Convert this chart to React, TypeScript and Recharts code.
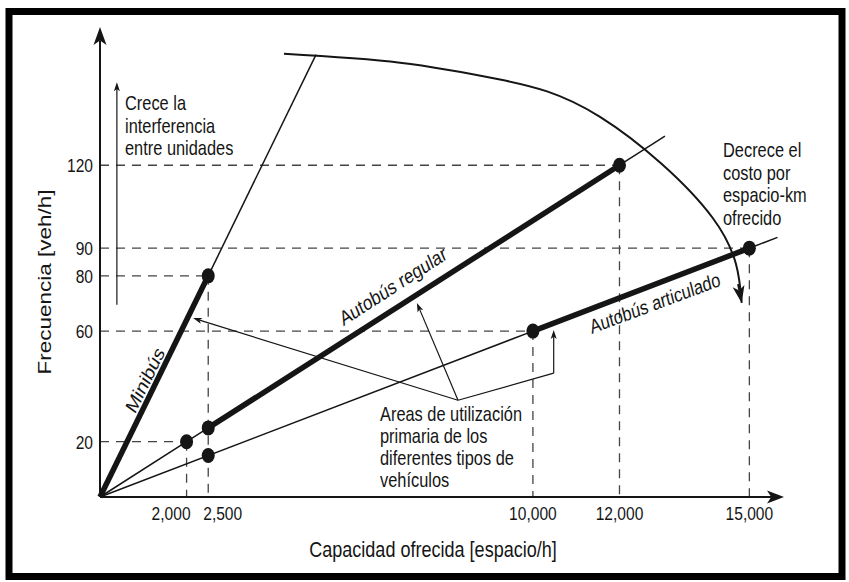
import React from 'react';
import { ComposedChart, Line, Scatter, XAxis, YAxis, ReferenceLine } from 'recharts';

// --- data ---
const xTicks = [2000, 2500, 10000, 12000, 15000];
const yTicks = [20, 60, 80, 90, 120];

const minibusThick = [{ x: 0, y: 0 }, { x: 2500, y: 80 }];
const minibusExt = [{ x: 2500, y: 80 }, { x: 4990, y: 160 }];
const regularThin = [{ x: 0, y: 0 }, { x: 2000, y: 20 }, { x: 2500, y: 25 }];
const regularThick = [{ x: 2500, y: 25 }, { x: 12000, y: 120 }];
const regularExt = [{ x: 12000, y: 120 }, { x: 13050, y: 130.5 }];
const articThin = [{ x: 0, y: 0 }, { x: 10000, y: 60 }];
const articThick = [{ x: 10000, y: 60 }, { x: 15000, y: 90 }];
const articExt = [{ x: 15000, y: 90 }, { x: 15650, y: 93.9 }];

const keyPoints = [
  { x: 2500, y: 80 },
  { x: 2000, y: 20 },
  { x: 2500, y: 25 },
  { x: 12000, y: 120 },
  { x: 2500, y: 15 },
  { x: 10000, y: 60 },
  { x: 15000, y: 90 },
];

// dashed guides: value pairs (capacity, frequency)
const guides = [
  { x: 2000, y: 20 },
  { x: 10000, y: 60 },
  { x: 2500, y: 80 },
  { x: 15000, y: 90 },
  { x: 12000, y: 120 },
];

// "Decrece el costo" arc
const costArc = [
  { x: 4250, y: 160.3 },
  { x: 6930, y: 157.1 },
  { x: 9240, y: 151 },
  { x: 11550, y: 137.5 },
  { x: 14150, y: 101 },
  { x: 14823, y: 70.2 },
];

// annotation pointers
const pointerHub = { x: 8270, y: 35 };
const pointerMinibus = { x: 2150, y: 64.7 };
const pointerRegular = { x: 7320, y: 70.2 };
const pointerCorner = { x: 10480, y: 44.8 };
const pointerArtic = { x: 10480, y: 60.4 };

const SANS = "'Liberation Sans', Arial, sans-serif";
const INK = '#151515';
const SQUEEZE = 0.82; // the figure is horizontally compressed

const arrowShape = (len: number, wid: number) => (props: any) => {
  const { x1, y1, x2, y2, stroke, strokeWidth } = props;
  const a = Math.atan2(y2 - y1, x2 - x1);
  const c = Math.cos(a);
  const s = Math.sin(a);
  const bx = x2 - len * c;
  const by = y2 - len * s;
  const mx = x2 - len * 0.75 * c;
  const my = y2 - len * 0.75 * s;
  const nx = (-s * wid) / 2;
  const ny = (c * wid) / 2;
  return (
    <g>
      <line x1={x1} y1={y1} x2={mx} y2={my} stroke={stroke} strokeWidth={strokeWidth} />
      <path
        d={`M${x2},${y2} L${bx + nx},${by + ny} L${mx},${my} L${bx - nx},${by - ny} Z`}
        fill={stroke}
      />
    </g>
  );
};

const Dot = (props: any) => <ellipse cx={props.cx} cy={props.cy} rx={6.5} ry={7.5} fill={INK} />;

const fmt = (v: number) => v.toLocaleString('en-US');

const XTick = (props: any) => {
  const { x, y, payload } = props;
  // the two close labels are pushed apart as in the source
  let anchor = 'middle';
  let dx = 0;
  if (payload.value === 2000) {
    anchor = 'end';
    dx = 4;
  } else if (payload.value === 2500) {
    anchor = 'start';
    dx = -5;
  }
  return (
    <g transform={`translate(${x + dx},${y}) scale(${SQUEEZE},1)`}>
      <text x={0} y={0} dy="0.75em" textAnchor={anchor} fontFamily={SANS} fontSize={19} fill={INK}>
        {fmt(payload.value)}
      </text>
    </g>
  );
};

const YTick = (props: any) => {
  const { x, y, payload } = props;
  return (
    <g transform={`translate(${x},${y}) scale(${SQUEEZE},1)`}>
      <text x={0} y={0} dy="0.36em" textAnchor="end" fontFamily={SANS} fontSize={19} fill={INK}>
        {payload.value}
      </text>
    </g>
  );
};

// text squeezed horizontally like the source figure
const Txt = ({ x, y, size = 20, rotate = 0, anchor = 'start', middle = false, children }: any) => (
  <g transform={`translate(${x},${y}) scale(${SQUEEZE},1) rotate(${rotate})`}>
    <text x={0} y={0} dy={middle ? '0.35em' : 0} textAnchor={anchor} fontFamily={SANS} fontSize={size} fill={INK}>
      {children}
    </text>
  </g>
);

export default function App() {
  return (
    <div style={{ position: 'absolute', left: 0, top: 0, width: 849, height: 582, background: '#fff' }}>
      <ComposedChart
        width={849}
        height={582}
        margin={{ top: 27, right: 65, bottom: 55, left: 40 }}
      >
        <XAxis
          type="number"
          dataKey="x"
          domain={[0, 15800]}
          ticks={xTicks}
          interval={0}
          axisLine={false}
          tickLine={false}
          tickSize={0}
          tickMargin={9}
          height={30}
          tick={<XTick />}
        />
        <YAxis
          type="number"
          dataKey="y"
          domain={[0, 170]}
          ticks={yTicks}
          interval={0}
          axisLine={false}
          tickLine={false}
          tickSize={0}
          tickMargin={7}
          width={60}
          tick={<YTick />}
        />

        {guides.map((g) => (
          <ReferenceLine
            key={`h${g.y}`}
            segment={[{ x: 0, y: g.y }, { x: g.x, y: g.y }]}
            stroke="#444"
            strokeWidth={1.3}
            strokeDasharray="9 7"
          />
        ))}
        {guides.map((g) => (
          <ReferenceLine
            key={`v${g.x}`}
            segment={[{ x: g.x, y: g.y }, { x: g.x, y: 0 }]}
            stroke="#444"
            strokeWidth={1.3}
            strokeDasharray="9 7"
          />
        ))}

        {/* axes with arrowheads */}
        <ReferenceLine segment={[{ x: 0, y: 0 }, { x: 15800, y: 0 }]} stroke={INK} strokeWidth={2} shape={arrowShape(17, 13)} />
        <ReferenceLine segment={[{ x: 0, y: 0 }, { x: 0, y: 170 }]} stroke={INK} strokeWidth={2} shape={arrowShape(18, 13)} />

        {/* interference arrow */}
        <ReferenceLine segment={[{ x: 390, y: 69.5 }, { x: 390, y: 150 }]} stroke={INK} strokeWidth={1.2} shape={arrowShape(9, 6)} />

        {/* pointers */}
        <ReferenceLine segment={[pointerHub, pointerMinibus]} stroke={INK} strokeWidth={1.2} shape={arrowShape(9, 6)} />
        <ReferenceLine segment={[pointerHub, pointerRegular]} stroke={INK} strokeWidth={1.2} shape={arrowShape(9, 6)} />
        <ReferenceLine segment={[pointerHub, pointerCorner]} stroke={INK} strokeWidth={1.2} />
        <ReferenceLine segment={[pointerCorner, pointerArtic]} stroke={INK} strokeWidth={1.2} shape={arrowShape(9, 6)} />

        {/* cost arc */}
        <Line data={costArc} dataKey="y" type="natural" stroke={INK} strokeWidth={2} dot={false} isAnimationActive={false} />
        <ReferenceLine segment={[{ x: 14740, y: 77 }, costArc[costArc.length - 1]]} stroke={INK} strokeWidth={2} shape={arrowShape(17, 12)} />

        <Line data={minibusExt} dataKey="y" stroke={INK} strokeWidth={1.5} dot={false} isAnimationActive={false} />
        <Line data={regularThin} dataKey="y" stroke={INK} strokeWidth={1.5} dot={false} isAnimationActive={false} />
        <Line data={regularExt} dataKey="y" stroke={INK} strokeWidth={1.5} dot={false} isAnimationActive={false} />
        <Line data={articThin} dataKey="y" stroke={INK} strokeWidth={1.5} dot={false} isAnimationActive={false} />
        <Line data={articExt} dataKey="y" stroke={INK} strokeWidth={1.5} dot={false} isAnimationActive={false} />
        <Line data={minibusThick} dataKey="y" stroke={INK} strokeWidth={5.5} dot={false} isAnimationActive={false} />
        <Line data={regularThick} dataKey="y" stroke={INK} strokeWidth={5.5} dot={false} isAnimationActive={false} />
        <Line data={articThick} dataKey="y" stroke={INK} strokeWidth={5.5} dot={false} isAnimationActive={false} />

        <Scatter data={keyPoints} dataKey="y" shape={Dot} isAnimationActive={false} />
      </ComposedChart>

      <svg
        width={849}
        height={582}
        style={{ position: 'absolute', left: 0, top: 0, pointerEvents: 'none' }}
      >
        <rect x={9} y={11.5} width={833} height={565} fill="none" stroke="#000" strokeWidth={7} />

        <Txt x={51} y={282} size={22.5} rotate={-90} anchor="middle">Frecuencia [veh/h]</Txt>
        <Txt x={433} y={557} size={22} anchor="middle">Capacidad ofrecida [espacio/h]</Txt>

        <Txt x={125} y={110}>Crece la</Txt>
        <Txt x={125} y={133}>interferencia</Txt>
        <Txt x={125} y={155}>entre unidades</Txt>

        <Txt x={723} y={157}>Decrece el</Txt>
        <Txt x={723} y={180}>costo por</Txt>
        <Txt x={723} y={202}>espacio-km</Txt>
        <Txt x={723} y={225}>ofrecido</Txt>

        <Txt x={380} y={421}>Areas de utilización</Txt>
        <Txt x={380} y={443}>primaria de los</Txt>
        <Txt x={380} y={465}>diferentes tipos de</Txt>
        <Txt x={380} y={487}>vehículos</Txt>

        <Txt x={655} y={303} rotate={-17} anchor="middle" middle>Autobús articulado</Txt>
        <Txt x={393} y={286} size={20.5} rotate={-28} anchor="middle" middle>Autobús regular</Txt>
        <Txt x={145} y={380} size={21} rotate={-59.3} anchor="middle" middle>Minibús</Txt>
      </svg>
    </div>
  );
}
